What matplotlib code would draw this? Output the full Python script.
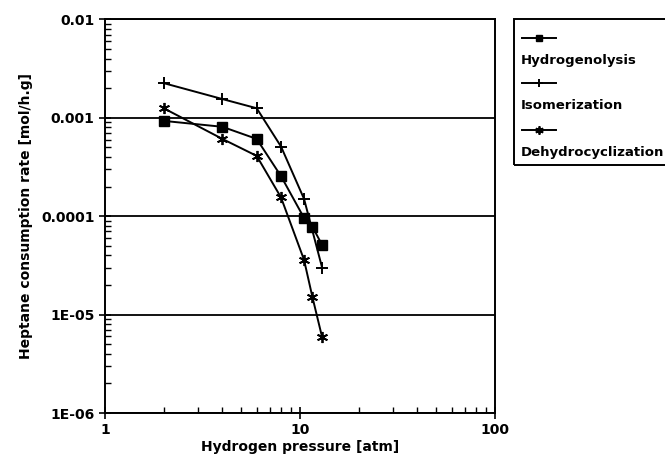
import matplotlib
matplotlib.use("Agg")
import matplotlib.pyplot as plt
from matplotlib.lines import Line2D
from matplotlib.patches import Rectangle
from matplotlib.ticker import FixedLocator, FixedFormatter, LogLocator, NullFormatter

plt.rcParams["font.family"] = "DejaVu Sans"
plt.rcParams["font.weight"] = "bold"

# hydrogen pressure [atm]
p_hydrogenolysis = [2, 4, 6, 8, 10.5, 11.6, 13]
p_isomerization = [2, 4, 6, 8, 10.5, 13]
p_dehydrocyclization = [2, 4, 6, 8, 10.5, 11.6, 13]

# heptane consumption rate [mol/h.g]
r_hydrogenolysis = [9.3e-4, 8.1e-4, 6.1e-4, 2.55e-4, 9.6e-5, 7.8e-5, 5.1e-5]
r_isomerization = [2.25e-3, 1.55e-3, 1.25e-3, 5.1e-4, 1.5e-4, 3.0e-5]
r_dehydrocyclization = [1.25e-3, 6.1e-4, 4.1e-4, 1.55e-4, 3.6e-5, 1.5e-5, 5.9e-6]

series_names = ["Hydrogenolysis", "Isomerization", "Dehydrocyclization"]
y_ticks = [1e-6, 1e-5, 1e-4, 1e-3, 1e-2]
y_labels = ["1E-06", "1E-05", "0.0001", "0.001", "0.01"]
x_ticks = [1, 10, 100]
x_labels = ["1", "10", "100"]

asterisk = (6, 2, 0)
styles = [
    dict(marker="s", markersize=6.5),
    dict(marker="+", markersize=9, markeredgewidth=1.4),
    dict(marker=asterisk, markersize=8, markeredgewidth=1.3),
]
# smaller symbols for the key
key_sizes = [5, 6, 6]

fig = plt.figure(figsize=(6.65, 4.61), dpi=100)
ax = fig.add_axes([0.158, 0.104, 0.586, 0.854])

data = [(p_hydrogenolysis, r_hydrogenolysis),
        (p_isomerization, r_isomerization),
        (p_dehydrocyclization, r_dehydrocyclization)]
for (x, y), st in zip(data, styles):
    ax.plot(x, y, color="black", lw=1.4, **st)

ax.set_xscale("log")
ax.set_yscale("log")
ax.set_xlim(1, 100)
ax.set_ylim(1e-6, 1e-2)

ax.xaxis.set_major_locator(FixedLocator(x_ticks))
ax.xaxis.set_major_formatter(FixedFormatter(x_labels))
ax.yaxis.set_major_locator(FixedLocator(y_ticks))
ax.yaxis.set_major_formatter(FixedFormatter(y_labels))
ax.xaxis.set_minor_locator(LogLocator(base=10, subs=range(2, 10)))
ax.yaxis.set_minor_locator(LogLocator(base=10, subs=range(2, 10)))
ax.xaxis.set_minor_formatter(NullFormatter())
ax.yaxis.set_minor_formatter(NullFormatter())

ax.tick_params(which="major", direction="inout", length=8, width=1.2, labelsize=10)
ax.tick_params(which="minor", direction="in", length=4, width=1)
for s in ax.spines.values():
    s.set_linewidth(1.4)

ax.yaxis.grid(True, which="major", color="black", lw=1.3)
ax.set_axisbelow(True)

ax.set_xlabel("Hydrogen pressure [atm]", fontsize=10, fontweight="bold", labelpad=2)
ax.set_ylabel("Heptane consumption rate [mol/h.g]", fontsize=10, fontweight="bold", labelpad=6)

# legend box on the right, handle drawn above each name
W, H = 665.0, 461.0
fig.add_artist(Rectangle((514 / W, 1 - 165 / H), 160 / W, (165 - 19) / H,
                         transform=fig.transFigure, fill=False, lw=1.4,
                         edgecolor="black", clip_on=False))
row_y = [38, 83, 130]
for name, st, ks, yy in zip(series_names, styles, key_sizes, row_y):
    kst = dict(st, markersize=ks)
    fig.add_artist(Line2D([522 / W, 539 / W, 556 / W], [1 - yy / H] * 3,
                          transform=fig.transFigure, color="black", lw=1.4,
                          markevery=[1], **kst))
    fig.text(521 / W, 1 - (yy + 22.5) / H, name, fontsize=9.5, fontweight="bold",
             va="center", ha="left")

fig.savefig("out.png", dpi=100)
